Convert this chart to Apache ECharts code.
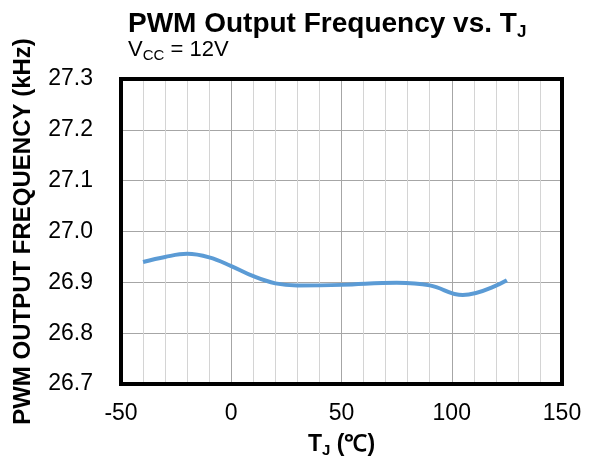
<!DOCTYPE html>
<html>
<head>
<meta charset="utf-8">
<script src="https://cdn.jsdelivr.net/npm/echarts@6/dist/echarts.min.js"></script>
<style>html,body{margin:0;padding:0;background:#fff}#c{width:589px;height:466px}</style>
</head>
<body>
<div id="c"></div>
<script>
const temps = [-40, -30, -20, -10, 0, 10, 20, 30, 50, 75, 90, 105, 125];
const freq = [26.940, 26.950, 26.956, 26.949, 26.932, 26.912, 26.898, 26.894, 26.895, 26.899, 26.894, 26.875, 26.904];
const xTicks = [-50, 0, 50, 100, 150];
const yTicks = [26.7, 26.8, 26.9, 27.0, 27.1, 27.2, 27.3];

const FONT = '"Liberation Sans", Arial, sans-serif';
const chart = echarts.init(document.getElementById('c'), null, {renderer: 'canvas'});
const grid = {left: 121, right: 27, top: 79, bottom: 82, show: false};
chart.setOption({
  animation: false,
  textStyle: {fontFamily: FONT},
  title: [
    {text: 'PWM Output Frequency vs. T{s|J}', left: 123, top: 3,
     textStyle: {fontFamily: FONT, fontSize: 28, fontWeight: 'bold', color: '#000',
       rich: {s: {fontFamily: FONT, fontSize: 17, fontWeight: 'bold', padding: [16, 0, 0, 0], color: '#000'}}}},
    {text: 'V{s|CC} = 12V', left: 123, top: 32,
     textStyle: {fontFamily: FONT, fontSize: 22, fontWeight: 'normal', color: '#000',
       rich: {s: {fontFamily: FONT, fontSize: 15, padding: [11, 0, 0, 0], color: '#000'}}}}
  ],
  grid: grid,
  xAxis: [
    {type: 'value', min: -50, max: 150, interval: 10, axisLabel: {show: false}, axisTick: {show: false},
     axisLine: {show: false}, splitLine: {show: true, lineStyle: {color: '#d4d4d4', width: 1}}},
    {type: 'value', min: -50, max: 150, interval: 50, position: 'bottom',
     axisLabel: {show: true, fontSize: 23, color: '#000', margin: 18, fontFamily: FONT,
       formatter: v => xTicks.includes(v) ? String(v) : ''},
     axisTick: {show: false}, axisLine: {show: false},
     splitLine: {show: true, lineStyle: {color: '#a6a6a6', width: 1}},
     name: 'T{s|J} (℃)', nameLocation: 'middle', nameGap: 47,
     nameTextStyle: {fontFamily: FONT, fontSize: 23, fontWeight: 'bold', color: '#000',
       rich: {s: {fontFamily: FONT, fontSize: 15, fontWeight: 'bold', padding: [12, 0, 0, 0], color: '#000'}}}}
  ],
  yAxis: {type: 'value', min: 26.7, max: 27.3, interval: 0.1,
    axisLabel: {fontSize: 23, color: '#000', margin: 28, fontFamily: FONT,
      formatter: v => { const t = yTicks.find(y => Math.abs(y - v) < 1e-6); return t !== undefined ? t.toFixed(1) : ''; }},
    axisTick: {show: false}, axisLine: {show: false},
    splitLine: {show: true, lineStyle: {color: '#a6a6a6', width: 1}},
    name: 'PWM OUTPUT FREQUENCY (kHz)', nameLocation: 'middle', nameRotate: 90, nameGap: 86,
    nameTextStyle: {fontFamily: FONT, fontSize: 24, fontWeight: 'bold', color: '#000'}},
  graphic: [{type: 'rect', z: 100, silent: true,
    shape: {x: 121, y: 79, width: 589 - 121 - 27, height: 466 - 79 - 82},
    style: {fill: 'none', stroke: '#000', lineWidth: 4}}],
  series: [{type: 'line', xAxisIndex: 1, data: temps.map((t, i) => [t, freq[i]]),
    smooth: 0.4, showSymbol: false, lineStyle: {color: '#5B9BD5', width: 4}, z: 5}]
});
</script>
</body>
</html>
